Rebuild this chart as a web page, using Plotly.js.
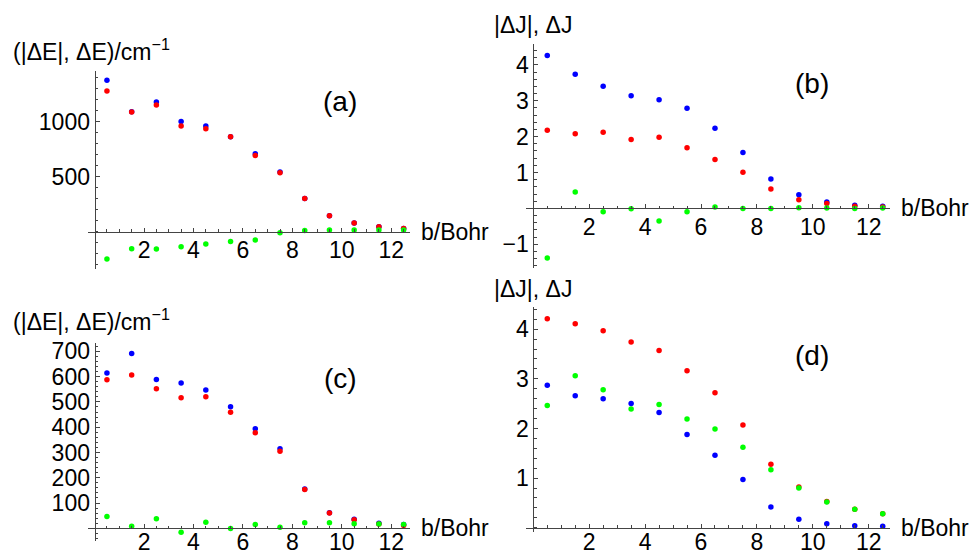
<!DOCTYPE html>
<html>
<head>
<meta charset="utf-8">
<script src="https://cdn.plot.ly/plotly-3.0.1.min.js"></script>
<style>html,body{margin:0;padding:0;background:#fff;}#chart{width:971px;height:555px;}</style>
</head>
<body>
<div id="chart"></div>
<script>
// ---- data ----
const bohr = [0.5, 1.5, 2.5, 3.5, 4.5, 5.5, 6.5, 7.5, 8.5, 9.5, 10.5, 11.5, 12.5];

const aBlue  = [1376, 1090, 1179, 1003, 961, 864, 709, 543, 303, 145, 79, 45, 30];
const aRed   = [1279, 1088, 1152, 961, 936, 864, 694, 536, 303, 145, 79, 45, 30];
const aGreen = [-248, -155, -158, -136, -112, -88, -76, -9, 12, 15, 15, 15, 15];

const bBlue  = [4.26, 3.74, 3.40, 3.14, 3.03, 2.79, 2.23, 1.56, 0.82, 0.38, 0.18, 0.09, 0.06];
const bRed   = [2.18, 2.08, 2.12, 1.92, 1.98, 1.69, 1.36, 1.01, 0.54, 0.24, 0.14, 0.06, 0.04];
const bGreen = [-1.38, 0.46, -0.09, -0.01, -0.35, -0.09, 0.04, 0.0, 0.0, 0.02, 0.01, 0.0, 0.01];

const cBlue  = [614, 692, 589, 575, 547, 481, 394, 315, 156, 62, 36, 20, 15];
const cRed   = [588, 607, 552, 517, 521, 459, 378, 305, 154, 61, 34, 17, 11];
const cGreen = [47, 8, 38, -16, 24, -1, 15, 4, 22, 22, 18, 17, 15];

const dBlue  = [2.87, 2.66, 2.60, 2.50, 2.32, 1.88, 1.46, 0.97, 0.42, 0.17, 0.08, 0.04, 0.03];
const dRed   = [4.21, 4.11, 3.97, 3.74, 3.57, 3.16, 2.72, 2.07, 1.28, 0.82, 0.53, 0.37, 0.28];
const dGreen = [2.46, 3.06, 2.78, 2.39, 2.48, 2.19, 1.99, 1.62, 1.17, 0.80, 0.52, 0.37, 0.28];

const xTickLabels = [2, 4, 6, 8, 10, 12];
const yTicksA = [500, 1000];
const yTicksB = [-1, 1, 2, 3, 4];
const yTicksC = [100, 200, 300, 400, 500, 600, 700];
const yTicksD = [1, 2, 3, 4];

const panelLabels = ['(a)', '(b)', '(c)', '(d)'];
const yTitleE = '(|ΔE|, ΔE)/cm<sup>−1</sup>';
const yTitleJ = '|ΔJ|, ΔJ';
const xTitle = 'b/Bohr';

// ---- layout helpers ----
const W = 971, H = 555;
const FONT = 'Liberation Sans, Arial, sans-serif';
const AXC = '#444';
const px = v => v / W;
const py = v => 1 - v / H;
function seq(a, b, s) { const r = []; for (let v = a; v <= b + 1e-9; v += s) r.push(+v.toFixed(6)); return r; }

const panels = [
  {blue: aBlue, red: aRed, green: aGreen, xpx: [88.4, 409.8], ypx: [71, 268.7], yr: [-336, 1461], yt: yTicksA, ym: seq(-300, 1400, 100), so: -2},
  {blue: bBlue, red: bRed, green: bGreen, xpx: [526.3, 889.7], ypx: [44, 268], yr: [-1.66, 4.58], yt: yTicksB, ym: seq(-1.6, 4.4, 0.2), so: -2},
  {blue: cBlue, red: cRed, green: cGreen, xpx: [88.4, 409.8], ypx: [343.3, 540.7], yr: [-49, 732], yt: yTicksC, ym: seq(-40, 720, 20), so: -7},
  {blue: dBlue, red: dRed, green: dGreen, xpx: [526.3, 889.7], ypx: [307.3, 531.7], yr: [-0.08, 4.44], yt: yTicksD, ym: seq(0, 4.4, 0.2), so: -6}
];
const xr = [-0.25, 12.75];

const traces = [];
const layout = {
  width: W, height: H,
  margin: {l: 0, r: 0, t: 0, b: 0},
  paper_bgcolor: '#fff', plot_bgcolor: '#fff',
  showlegend: false,
  font: {family: FONT, size: 23, color: '#000'},
  annotations: []
};

panels.forEach((p, i) => {
  const n = i + 1;
  const xa = 'x' + (n === 1 ? '' : n), ya = 'y' + (n === 1 ? '' : n);
  const xk = 'xaxis' + (n === 1 ? '' : n), yk = 'yaxis' + (n === 1 ? '' : n);
  [['blue', '#0000ff'], ['red', '#ff0000'], ['green', '#00ff00']].forEach(([k, c]) => {
    traces.push({x: bohr, y: p[k], xaxis: xa, yaxis: ya, type: 'scatter', mode: 'markers',
      marker: {color: c, size: 5.5, line: {width: 0}}, cliponaxis: false, hoverinfo: 'skip'});
  });
  const xd = [px(p.xpx[0]), px(p.xpx[1])];
  const yd = [py(p.ypx[1]), py(p.ypx[0])];
  const xpos = yd[0] + (0 - p.yr[0]) / (p.yr[1] - p.yr[0]) * (yd[1] - yd[0]);
  const ypos = xd[0] + (0 - xr[0]) / (xr[1] - xr[0]) * (xd[1] - xd[0]);
  layout[xk] = {
    domain: xd, range: xr, anchor: 'free', position: xpos,
    showgrid: false, zeroline: false, showline: true, linecolor: AXC, linewidth: 1,
    ticks: 'inside', ticklen: 4, tickcolor: AXC, tickwidth: 1,
    tickmode: 'array', tickvals: xTickLabels, ticktext: xTickLabels.map(String),
    tickfont: {family: FONT, size: 23, color: '#000'},
    ticklabelstandoff: p.so,
    minor: {tickmode: 'array', tickvals: seq(0.5, 12.5, 0.5), ticks: 'inside', ticklen: 2.5, tickcolor: AXC, tickwidth: 1, showgrid: false},
    fixedrange: true
  };
  layout[yk] = {
    domain: yd, range: p.yr, anchor: 'free', position: ypos,
    showgrid: false, zeroline: false, showline: true, linecolor: AXC, linewidth: 1,
    ticks: 'inside', ticklen: 4, tickcolor: AXC, tickwidth: 1,
    tickmode: 'array', tickvals: p.yt, ticktext: p.yt.map(v => v < 0 ? '−' + Math.abs(v) : String(v)),
    tickfont: {family: FONT, size: 23, color: '#000'},
    minor: {tickmode: 'array', tickvals: p.ym, ticks: 'inside', ticklen: 2.5, tickcolor: AXC, tickwidth: 1, showgrid: false},
    fixedrange: true
  };
});

// axis titles and panel labels
const titlePos = [
  {yt: yTitleE, ytx: 11, yty: 50, xtx: 419, xty: 231.7, lx: 340, ly: 101.7},
  {yt: yTitleJ, ytx: 491.7, yty: 25, xtx: 899, xty: 208.5, lx: 811.7, ly: 83.3},
  {yt: yTitleE, ytx: 11, yty: 320, xtx: 419, xty: 528.3, lx: 340, ly: 378.3},
  {yt: yTitleJ, ytx: 491.7, yty: 289, xtx: 899, xty: 527.7, lx: 811.7, ly: 355}
];
titlePos.forEach((t, i) => {
  layout.annotations.push({xref: 'paper', yref: 'paper', x: px(t.ytx), y: py(t.yty), xanchor: 'left', yanchor: 'middle',
    text: t.yt, showarrow: false, font: {family: FONT, size: 23, color: '#000'}});
  layout.annotations.push({xref: 'paper', yref: 'paper', x: px(t.xtx), y: py(t.xty), xanchor: 'left', yanchor: 'middle',
    text: xTitle, showarrow: false, font: {family: FONT, size: 23, color: '#000'}});
  layout.annotations.push({xref: 'paper', yref: 'paper', x: px(t.lx), y: py(t.ly), xanchor: 'center', yanchor: 'middle',
    text: panelLabels[i], showarrow: false, font: {family: FONT, size: 28, color: '#000'}});
});

Plotly.newPlot('chart', traces, layout, {staticPlot: true, displayModeBar: false});
</script>
</body>
</html>
